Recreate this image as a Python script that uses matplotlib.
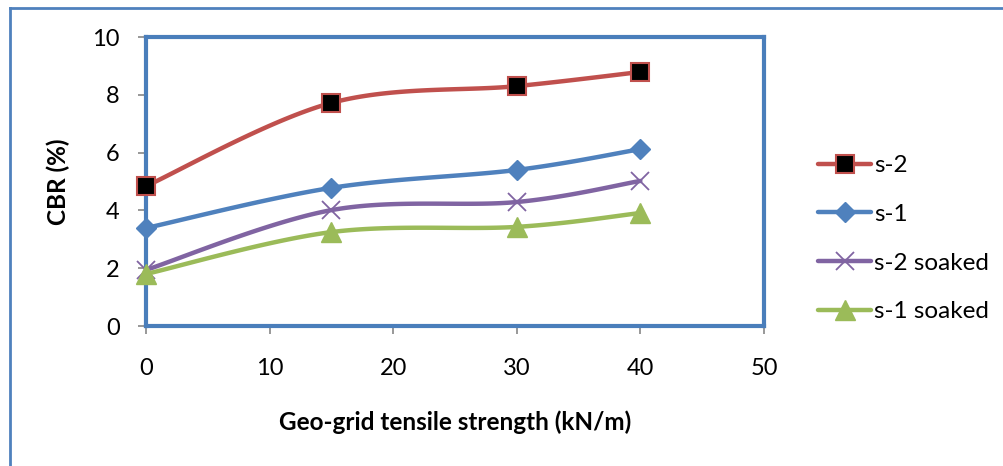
import numpy as np
import matplotlib.pyplot as plt
from matplotlib.lines import Line2D

plt.rcParams['font.family'] = ['Lato', 'DejaVu Sans']

# geo-grid tensile strength (kN/m) and CBR (%) per sample
strength = [0, 15, 30, 40]
cbr_s2 = [4.84, 7.72, 8.30, 8.79]
cbr_s1 = [3.39, 4.78, 5.40, 6.12]
cbr_s2_soaked = [1.94, 4.01, 4.29, 5.02]
cbr_s1_soaked = [1.80, 3.25, 3.43, 3.91]
labels = ['s-2', 's-1', 's-2 soaked', 's-1 soaked']


def smooth(x, y, n=40):
    """Excel-style smoothed line: cubic Bezier through points (Catmull-Rom)."""
    p = np.column_stack([x, y]).astype(float)
    p = np.vstack([p[0], p, p[-1]])
    out = []
    t = np.linspace(0, 1, n)[:, None]
    for i in range(1, len(p) - 2):
        p0, p3 = p[i], p[i + 1]
        c1 = p0 + (p[i + 1] - p[i - 1]) / 6
        c2 = p3 - (p[i + 2] - p[i]) / 6
        seg = ((1 - t) ** 3) * p0 + 3 * ((1 - t) ** 2) * t * c1 \
            + 3 * (1 - t) * t ** 2 * c2 + t ** 3 * p3
        out.append(seg)
    s = np.vstack(out)
    return s[:, 0], s[:, 1]


fig = plt.figure(figsize=(10.04, 4.66), dpi=100)
ax = fig.add_axes([0.1454, 0.3004, 0.6155, 0.6202])

# outer chart frame (left and top edges)
frame_c = '#4f81bd'
fig.add_artist(Line2D([0.010, 0.010], [0.0, 0.983], transform=fig.transFigure,
                      color=frame_c, lw=2))
fig.add_artist(Line2D([0.010, 1.0], [0.983, 0.983], transform=fig.transFigure,
                      color=frame_c, lw=2))

series = [
    (cbr_s2, '#c0504d', dict(marker='s', ms=13, mfc='black', mec='#c0504d', mew=1.5)),
    (cbr_s1, '#4f81bd', dict(marker='D', ms=10, mfc='#4f81bd', mec='#4f81bd')),
    (cbr_s2_soaked, '#8064a2', dict(marker='x', ms=13, mfc='none', mec='#8064a2', mew=1.3)),
    (cbr_s1_soaked, '#9bbb59', dict(marker='^', ms=14, mfc='#9bbb59', mec='#9bbb59')),
]

handles = []
for (vals, col, mk), lab in zip(series, labels):
    sx, sy = smooth(strength, vals)
    ax.plot(sx, sy, color=col, lw=3.2, solid_capstyle='round', zorder=3, clip_on=False)
    ax.plot(strength, vals, ls='none', zorder=4, clip_on=False, **mk)
    handles.append(Line2D([], [], color=col, lw=3.2, solid_capstyle='round', **mk))

ax.set_xlim(0, 50)
ax.set_ylim(0, 10)
ax.set_xticks([0, 10, 20, 30, 40, 50])
ax.set_yticks([0, 2, 4, 6, 8, 10])
for s in ax.spines.values():
    s.set_color('#4a7ebb')
    s.set_linewidth(3)
ax.tick_params(direction='out', length=6, width=1.2, color='#868686',
               labelsize=17)
ax.tick_params(axis='y', pad=13)
ax.tick_params(axis='x', pad=17)
ax.set_xlabel('Geo-grid tensile strength (kN/m)', fontsize=17.5, fontweight='bold',
              labelpad=23)
ax.set_ylabel('CBR (%)', fontsize=17.5, fontweight='bold', labelpad=16)

fig.legend(handles, labels, loc='upper left', bbox_to_anchor=(0.805, 0.688),
           frameon=False, fontsize=17.5, handlelength=2.2, handletextpad=0.1,
           labelspacing=1.14, borderaxespad=0)

fig.savefig('out.png', dpi=100)
